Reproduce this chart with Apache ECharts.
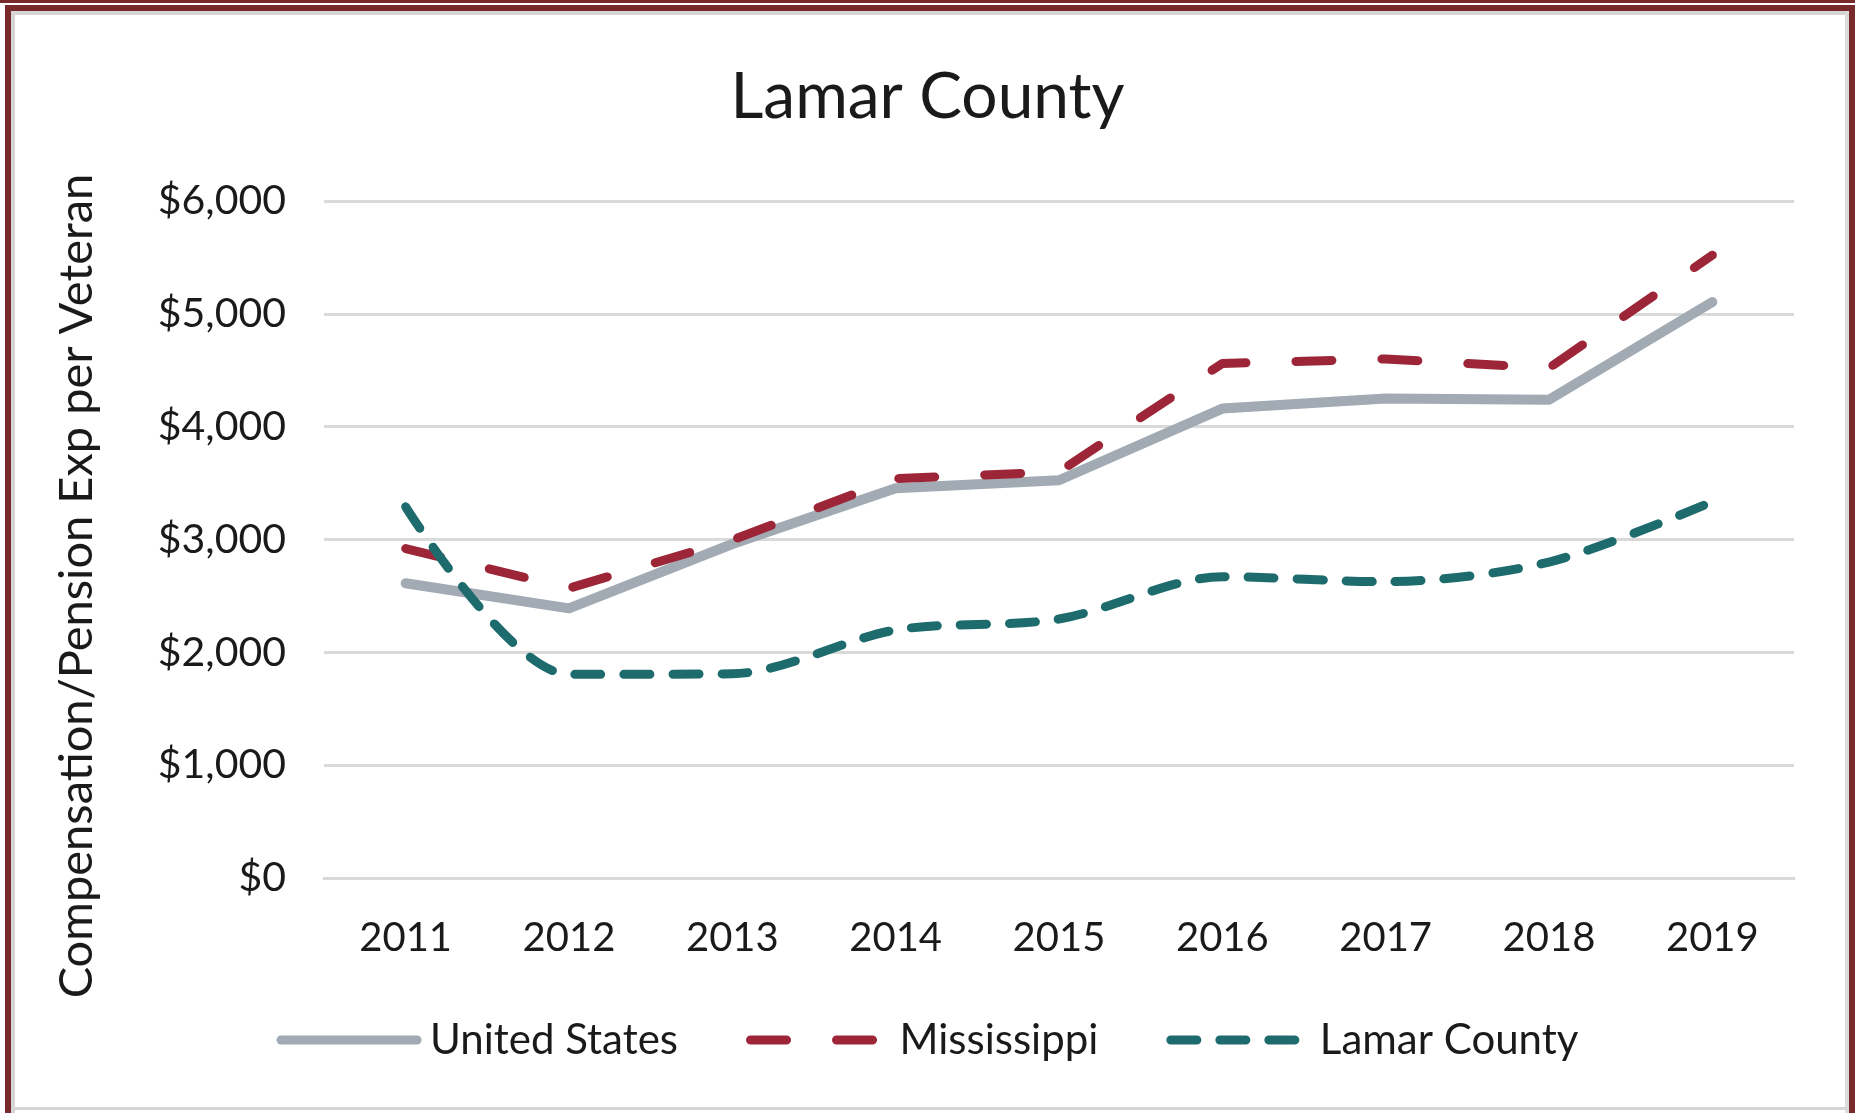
<!DOCTYPE html>
<html>
<head>
<meta charset="utf-8">
<title>Lamar County</title>
<script src="https://cdn.jsdelivr.net/npm/echarts@6/dist/echarts.min.js"></script>
<style>
    html, body { margin: 0; padding: 0; background: #fff; }
    #chart { width: 1855px; height: 1113px; }
</style>
</head>
<body>
<div id="chart"></div>
<script>
// data
var years = ['2011', '2012', '2013', '2014', '2015', '2016', '2017', '2018', '2019'];
var unitedStates = [2612, 2390, 2960, 3455, 3525, 4160, 4250, 4238, 5105];
var mississippi = [2920, 2568, 2996, 3540, 3600, 4560, 4600, 4520, 5520];
var lamarCounty = [3290, 1805, 1810, 2198, 2295, 2670, 2626, 2800, 3335];

var yTicks = { min: 0, max: 6000, step: 1000 };
var seriesNames = ['United States', 'Mississippi', 'Lamar County'];
var yTitle = 'Compensation/Pension Exp per Veteran';

var FONT = 'Lato';
var frameColor = '#77292C';

function money(v) {
    return '$' + String(v).replace(/\B(?=(\d{3})+(?!\d))/g, ',');
}

var chart = echarts.init(document.getElementById('chart'));
chart.setOption({
    animation: false,
    backgroundColor: '#fff',
    title: {
        text: 'Lamar County',
        left: 'center',
        top: 60,
        textStyle: { fontFamily: FONT, fontSize: 64, fontWeight: 'normal', color: '#1a1a1a' }
    },
    legend: {
        data: seriesNames,
        left: 'center',
        top: 1014,
        itemWidth: 136,
        itemHeight: 14,
        itemGap: 68,
        itemStyle: { color: 'rgba(0,0,0,0)', borderWidth: 0 },
        lineStyle: { width: 9, cap: 'round' },
        textStyle: { fontFamily: FONT, fontSize: 42, color: '#1a1a1a', padding: [0, 0, 0, 8] }
    },
    grid: { left: 324, right: 61, top: 201, bottom: 235 },
    xAxis: {
        type: 'category',
        data: years,
        boundaryGap: true,
        axisLine: { show: true, lineStyle: { color: '#d9d9d9', width: 3 } },
        axisTick: { show: false },
        axisLabel: { fontFamily: FONT, fontSize: 40, color: '#1a1a1a', margin: 40 }
    },
    yAxis: {
        type: 'value',
        min: yTicks.min,
        max: yTicks.max,
        interval: yTicks.step,
        axisLine: { show: false },
        axisTick: { show: false },
        splitLine: { lineStyle: { color: '#d9d9d9', width: 3 } },
        axisLabel: { fontFamily: FONT, fontSize: 41, color: '#1a1a1a', margin: 38, formatter: money }
    },
    series: [
        {
            name: seriesNames[0],
            type: 'line',
            data: unitedStates,
            symbol: 'none',
            lineStyle: { color: '#A2AAB3', width: 10, cap: 'round', join: 'round' },
            itemStyle: { color: '#A2AAB3' },
            z: 2
        },
        {
            name: seriesNames[1],
            type: 'line',
            data: mississippi,
            symbol: 'none',
            lineStyle: { color: '#9C2637', width: 9, type: [36, 50], cap: 'round', join: 'round' },
            itemStyle: { color: '#9C2637' },
            z: 3
        },
        {
            name: seriesNames[2],
            type: 'line',
            data: lamarCounty,
            symbol: 'none',
            smooth: 0.3,
            lineStyle: { color: '#1E6B6E', width: 9, type: [26, 23], cap: 'round', join: 'round' },
            itemStyle: { color: '#1E6B6E' },
            z: 4
        }
    ],
    graphic: [
        // y axis title
        {
            type: 'text',
            x: 77,
            y: 586,
            rotation: Math.PI / 2,
            style: {
                text: yTitle,
                fontFamily: FONT,
                fontSize: 47,
                fill: '#1a1a1a',
                align: 'center',
                verticalAlign: 'middle'
            }
        },
        // frame around the picture
        { type: 'rect', shape: { x: 0, y: 0, width: 1855, height: 3 }, style: { fill: frameColor } },
        { type: 'rect', shape: { x: 5, y: 5, width: 1850, height: 6 }, style: { fill: frameColor } },
        { type: 'rect', shape: { x: 5, y: 5, width: 6, height: 1108 }, style: { fill: frameColor } },
        { type: 'rect', shape: { x: 1849, y: 5, width: 6, height: 1108 }, style: { fill: frameColor } },
        { type: 'rect', shape: { x: 11, y: 11, width: 1838, height: 4 }, style: { fill: '#d6d6d6' } },
        { type: 'rect', shape: { x: 11, y: 11, width: 4, height: 1102 }, style: { fill: '#d6d6d6' } },
        { type: 'rect', shape: { x: 1845, y: 11, width: 4, height: 1102 }, style: { fill: '#dcdcdc' } },
        { type: 'rect', shape: { x: 11, y: 1107, width: 1838, height: 3 }, style: { fill: '#d6d6d6' } }
    ]
});
</script>
</body>
</html>
